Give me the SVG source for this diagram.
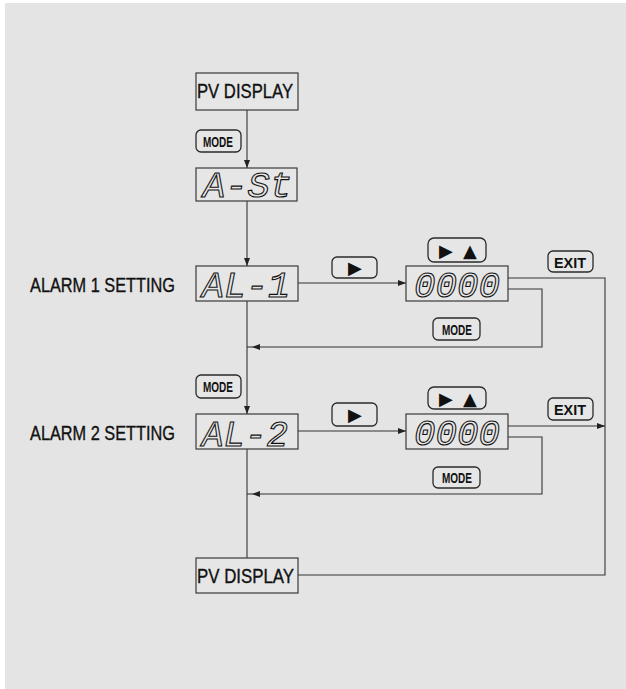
<svg xmlns="http://www.w3.org/2000/svg" width="626" height="689" viewBox="0 0 626 689">
<defs>
<style>
.box{fill:#e6e6e6;stroke:#3a3a3a;stroke-width:1.2}
.btn{fill:#e6e6e6;stroke:#2a2a2a;stroke-width:1.3}
.ln{fill:none;stroke:#333;stroke-width:1.1}
.lbl{font-family:"Liberation Sans",Arial,sans-serif;font-size:20px;fill:#111;stroke:#111;stroke-width:0.35}
.bt{font-family:"Liberation Sans",Arial,sans-serif;font-size:14px;font-weight:bold;fill:#111}
.seg{font-family:"Liberation Mono","Courier New",monospace;font-style:italic;font-size:37px;fill:#e6e6e6;stroke:#111;stroke-width:1.1}
.sym{font-family:"DejaVu Sans",sans-serif;font-size:18px;fill:#111}
</style>
<marker id="ah" viewBox="0 0 8 6" refX="8" refY="3" markerWidth="8" markerHeight="6" markerUnits="userSpaceOnUse" orient="auto">
<path d="M0,0 L8,3 L0,6 z" fill="#222"/>
</marker>
</defs>
<rect x="0" y="0" width="626" height="689" fill="#ffffff"/>
<rect x="5" y="3" width="621" height="686" fill="#e4e4e4"/>

<g id="connectors">
<line class="ln" x1="247" y1="110" x2="247" y2="168" marker-end="url(#ah)"/>
<line class="ln" x1="247" y1="201" x2="247" y2="266" marker-end="url(#ah)"/>
<line class="ln" x1="247" y1="301" x2="247" y2="414" marker-end="url(#ah)"/>
<line class="ln" x1="247" y1="449" x2="247" y2="558"/>
<line class="ln" x1="298" y1="283" x2="406" y2="283" marker-end="url(#ah)"/>
<line class="ln" x1="298" y1="431" x2="406" y2="431" marker-end="url(#ah)"/>
<polyline class="ln" points="508,289 542,289 542,347 252,347" marker-end="url(#ah)"/>
<line class="ln" x1="252" y1="347" x2="247" y2="347"/>
<polyline class="ln" points="508,437 542,437 542,494 252,494" marker-end="url(#ah)"/>
<line class="ln" x1="252" y1="494" x2="247" y2="494"/>
<polyline class="ln" points="508,278 605,278 605,575 298,575"/>
<line class="ln" x1="508" y1="426" x2="605" y2="426" marker-end="url(#ah)"/>
</g>

<g id="pv-display-top">
<rect class="box" x="196" y="73" width="102" height="37"/>
<text class="lbl" x="197" y="98" textLength="96" lengthAdjust="spacingAndGlyphs">PV DISPLAY</text>
</g>
<g id="mode-btn-1">
<rect class="btn" x="196" y="130" width="45" height="22" rx="5"/>
<text class="bt" x="203" y="147" textLength="30" lengthAdjust="spacingAndGlyphs">MODE</text>
</g>
<g id="a-st">
<rect class="box" x="196" y="168" width="101" height="33"/>
<text class="seg" x="203" y="197" textLength="89" lengthAdjust="spacingAndGlyphs">A-St</text>
</g>
<g id="alarm1-label">
<text class="lbl" x="30" y="292" textLength="145" lengthAdjust="spacingAndGlyphs">ALARM 1 SETTING</text>
</g>
<g id="al-1">
<rect class="box" x="196" y="266" width="102" height="35"/>
<text class="seg" x="202" y="297" textLength="88" lengthAdjust="spacingAndGlyphs">AL-1</text>
</g>
<g id="right-btn-1">
<rect class="btn" x="332" y="257" width="45" height="21" rx="5"/>
<text class="sym" x="355" y="274" text-anchor="middle">▶</text>
</g>
<g id="rightup-btn-1">
<rect class="btn" x="428" y="238" width="58" height="24" rx="6"/>
<text class="sym" x="446" y="257" text-anchor="middle">▶</text>
<text class="sym" x="470" y="257" text-anchor="middle">▲</text>
</g>
<g id="value-1">
<rect class="box" x="406" y="266" width="102" height="35"/>
<text class="seg" x="414" y="297" textLength="86" lengthAdjust="spacingAndGlyphs">0000</text>
</g>
<g id="exit-btn-1">
<rect class="btn" x="548" y="251" width="45" height="21" rx="5"/>
<text class="bt" x="554" y="268" textLength="32" lengthAdjust="spacingAndGlyphs" style="font-size:15px">EXIT</text>
</g>
<g id="mode-btn-2">
<rect class="btn" x="433" y="318" width="47" height="22" rx="5"/>
<text class="bt" x="442" y="335" textLength="30" lengthAdjust="spacingAndGlyphs">MODE</text>
</g>
<g id="mode-btn-3">
<rect class="btn" x="196" y="375" width="45" height="23" rx="5"/>
<text class="bt" x="203" y="392" textLength="30" lengthAdjust="spacingAndGlyphs">MODE</text>
</g>
<g id="alarm2-label">
<text class="lbl" x="30" y="440" textLength="145" lengthAdjust="spacingAndGlyphs">ALARM 2 SETTING</text>
</g>
<g id="al-2">
<rect class="box" x="196" y="414" width="102" height="35"/>
<text class="seg" x="202" y="446" textLength="86" lengthAdjust="spacingAndGlyphs">AL-2</text>
</g>
<g id="right-btn-2">
<rect class="btn" x="332" y="403" width="45" height="23" rx="5"/>
<text class="sym" x="355" y="421" text-anchor="middle">▶</text>
</g>
<g id="rightup-btn-2">
<rect class="btn" x="428" y="387" width="58" height="22" rx="6"/>
<text class="sym" x="446" y="405" text-anchor="middle">▶</text>
<text class="sym" x="470" y="405" text-anchor="middle">▲</text>
</g>
<g id="value-2">
<rect class="box" x="406" y="414" width="102" height="35"/>
<text class="seg" x="414" y="445" textLength="86" lengthAdjust="spacingAndGlyphs">0000</text>
</g>
<g id="exit-btn-2">
<rect class="btn" x="548" y="398" width="45" height="22" rx="5"/>
<text class="bt" x="554" y="415" textLength="32" lengthAdjust="spacingAndGlyphs" style="font-size:15px">EXIT</text>
</g>
<g id="mode-btn-4">
<rect class="btn" x="433" y="467" width="47" height="21" rx="5"/>
<text class="bt" x="442" y="483" textLength="30" lengthAdjust="spacingAndGlyphs">MODE</text>
</g>
<g id="pv-display-bottom">
<rect class="box" x="196" y="558" width="102" height="35"/>
<text class="lbl" x="197" y="583" textLength="97" lengthAdjust="spacingAndGlyphs">PV DISPLAY</text>
</g>
</svg>
